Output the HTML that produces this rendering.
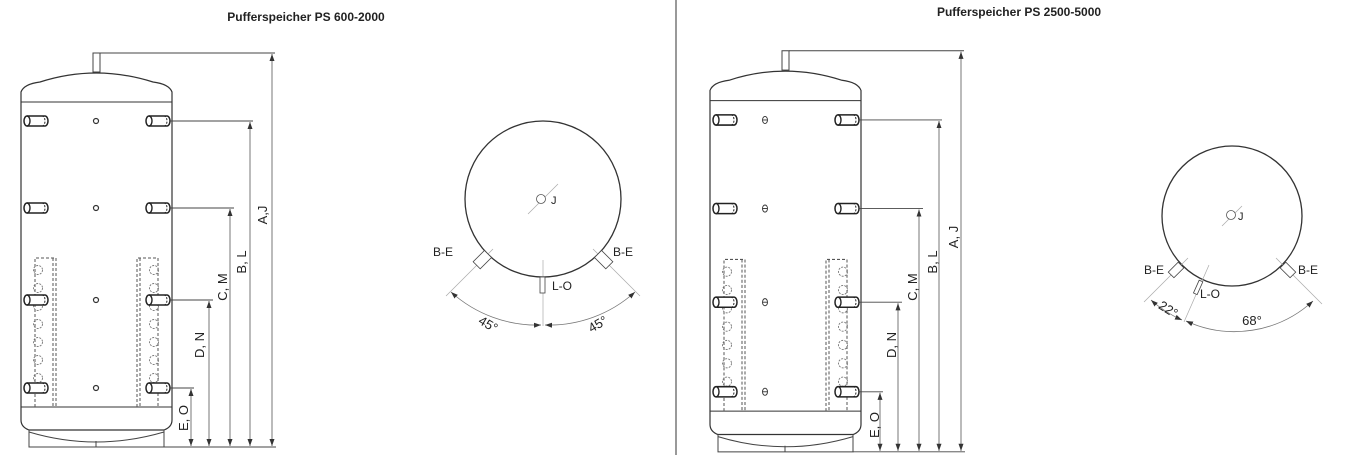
<!DOCTYPE html>
<html><head><meta charset="utf-8"><style>
html,body{margin:0;padding:0;background:#fff;}
svg{display:block;}
text{font-family:"Liberation Sans",sans-serif;fill:#222;}
</style></head><body>
<svg width="1350" height="455" viewBox="0 0 1350 455" xmlns="http://www.w3.org/2000/svg">
<defs>
<marker id="ar" markerWidth="8" markerHeight="8" refX="7" refY="4" orient="auto-start-reverse" markerUnits="userSpaceOnUse"><path d="M0,1.5 L7,4 L0,6.5 z" fill="#333"/></marker>
<g id="port">
<path d="M-9,-5 L9,-5 A3,5 0 0 1 9,5 L-9,5 A3,5 0 0 1 -9,-5 Z" fill="#fff" stroke="#222" stroke-width="1.5"/>
<path d="M-9,-5 A3,5 0 0 1 -9,5" fill="none" stroke="#222" stroke-width="1.4"/>
<path d="M6,-5 A3,5 0 0 1 6,5" fill="none" stroke="#222" stroke-width="1" stroke-dasharray="2,1.5"/>
</g>
<g id="tank">
<rect x="93" y="53" width="7" height="19" fill="#fff" stroke="#444" stroke-width="1"/>
<path d="M21,92 Q24,84 40,82 Q96,64 153,82 Q169,84 172,92 L172,420 Q172,427 164,430 L29,430 Q21,427 21,420 Z" fill="#fff" stroke="#333" stroke-width="1.2"/>
<line x1="21" y1="102" x2="172" y2="102" stroke="#333" stroke-width="1"/>
<line x1="21" y1="407" x2="172" y2="407" stroke="#333" stroke-width="1"/>
<path d="M29,430 L29,447 L164,447 L164,430" fill="none" stroke="#444" stroke-width="1"/>
<path d="M29,432 Q96,452 164,432" fill="none" stroke="#444" stroke-width="1"/>
<line x1="96" y1="441" x2="96" y2="447" stroke="#444" stroke-width="1"/>
<g fill="none" stroke="#555" stroke-width="1" stroke-dasharray="3,2">
<path d="M35,407 L35,258 L56,258 L56,407"/><line x1="53" y1="258" x2="53" y2="407"/>
<path d="M137,407 L137,258 L158,258 L158,407"/><line x1="140" y1="258" x2="140" y2="407"/>
</g>
<g fill="none" stroke="#777" stroke-width="0.9" stroke-dasharray="2,1.2">
<circle cx="38" cy="270" r="4.5"/><circle cx="38" cy="288" r="4.5"/><circle cx="38" cy="306" r="4.5"/><circle cx="38" cy="324" r="4.5"/><circle cx="38" cy="342" r="4.5"/><circle cx="38" cy="360" r="4.5"/><circle cx="38" cy="378" r="4.5"/>
<circle cx="154" cy="270" r="4.5"/><circle cx="154" cy="288" r="4.5"/><circle cx="154" cy="306" r="4.5"/><circle cx="154" cy="324" r="4.5"/><circle cx="154" cy="342" r="4.5"/><circle cx="154" cy="360" r="4.5"/><circle cx="154" cy="378" r="4.5"/>
</g>
<use href="#port" x="36" y="121"/><use href="#port" x="158" y="121"/>
<use href="#port" x="36" y="208"/><use href="#port" x="158" y="208"/>
<use href="#port" x="36" y="300"/><use href="#port" x="158" y="300"/>
<use href="#port" x="36" y="388"/><use href="#port" x="158" y="388"/>
<g stroke="#444" stroke-width="0.9" fill="none">
<line x1="100" y1="53" x2="275" y2="53"/>
<line x1="170" y1="121" x2="253" y2="121"/>
<line x1="170" y1="208" x2="234" y2="208"/>
<line x1="170" y1="300" x2="213" y2="300"/>
<line x1="170" y1="388" x2="194" y2="388"/>
<line x1="164" y1="447" x2="276" y2="447"/>
</g>
<g stroke="#555" stroke-width="0.8" fill="none" marker-start="url(#ar)" marker-end="url(#ar)">
<line x1="272" y1="54" x2="272" y2="446"/>
<line x1="250" y1="122" x2="250" y2="446"/>
<line x1="230" y1="209" x2="230" y2="446"/>
<line x1="209" y1="301" x2="209" y2="446"/>
<line x1="191" y1="389" x2="191" y2="446"/>
</g>
</g>
</defs>

<line x1="676" y1="0" x2="676" y2="455" stroke="#333" stroke-width="1"/>

<text x="306" y="21" font-size="12" font-weight="bold" text-anchor="middle">Pufferspeicher PS 600-2000</text>
<text x="1019" y="16" font-size="12" font-weight="bold" text-anchor="middle">Pufferspeicher PS 2500-5000</text>

<use href="#tank"/>
<g font-size="13">
<text transform="translate(267,215) rotate(-90)" text-anchor="middle">A,J</text>
<text transform="translate(246,262) rotate(-90)" text-anchor="middle">B, L</text>
<text transform="translate(227,287) rotate(-90)" text-anchor="middle">C, M</text>
<text transform="translate(204,345) rotate(-90)" text-anchor="middle">D, N</text>
<text transform="translate(188,418) rotate(-90)" text-anchor="middle">E, O</text>
</g>
<g fill="#fff" stroke="#333" stroke-width="1.2"><circle cx="96" cy="121" r="2.5"/><circle cx="96" cy="208" r="2.5"/><circle cx="96" cy="300" r="2.5"/><circle cx="96" cy="388" r="2.5"/></g>

<g transform="translate(689,-3.2) scale(1,1.018)">
<use href="#tank"/>
<g fill="#fff" stroke="#333" stroke-width="0.9"><ellipse cx="76" cy="121" rx="2.5" ry="3.5"/><ellipse cx="76" cy="208" rx="2.5" ry="3.5"/><ellipse cx="76" cy="300" rx="2.5" ry="3.5"/><ellipse cx="76" cy="388" rx="2.5" ry="3.5"/>
<line x1="73.5" y1="121" x2="78.5" y2="121"/><line x1="73.5" y1="208" x2="78.5" y2="208"/><line x1="73.5" y1="300" x2="78.5" y2="300"/><line x1="73.5" y1="388" x2="78.5" y2="388"/></g>
</g>
<g font-size="13">
<text transform="translate(958,237) rotate(-90)" text-anchor="middle">A, J</text>
<text transform="translate(937,262) rotate(-90)" text-anchor="middle">B, L</text>
<text transform="translate(917,287) rotate(-90)" text-anchor="middle">C, M</text>
<text transform="translate(896,345) rotate(-90)" text-anchor="middle">D, N</text>
<text transform="translate(879,425) rotate(-90)" text-anchor="middle">E, O</text>
</g>

<g>
<line x1="528" y1="214" x2="558" y2="184" stroke="#aaa" stroke-width="0.7"/>
<line x1="543" y1="260" x2="543" y2="326" stroke="#aaa" stroke-width="0.7"/>
<line x1="493" y1="249" x2="446" y2="296" stroke="#aaa" stroke-width="0.7"/>
<line x1="593" y1="249" x2="640" y2="296" stroke="#aaa" stroke-width="0.7"/>
<circle cx="543" cy="199" r="78" fill="none" stroke="#333" stroke-width="1.3"/>
<circle cx="541" cy="199" r="4.5" fill="#fff" stroke="#555" stroke-width="0.8"/>
<text x="551" y="204" font-size="11">J</text>
<rect x="540" y="277" width="5" height="16" fill="#fff" stroke="#444" stroke-width="0.8"/>
<rect x="-5" y="0" width="10" height="16" fill="#fff" stroke="#444" stroke-width="0.8" transform="translate(488,254) rotate(45)"/>
<rect x="-5" y="0" width="10" height="16" fill="#fff" stroke="#444" stroke-width="0.8" transform="translate(598,254) rotate(-45)"/>
<text x="433" y="256" font-size="12">B-E</text>
<text x="613" y="256" font-size="12">B-E</text>
<text x="552" y="290" font-size="12">L-O</text>
<path d="M451,292 A128,128 0 0 0 541,325" fill="none" stroke="#777" stroke-width="0.8" marker-start="url(#ar)" marker-end="url(#ar)"/>
<path d="M545,325 A128,128 0 0 0 635,292" fill="none" stroke="#777" stroke-width="0.8" marker-start="url(#ar)" marker-end="url(#ar)"/>
<text font-size="13" transform="translate(486,328) rotate(30)" text-anchor="middle">45°</text>
<text font-size="13" transform="translate(600,328) rotate(-30)" text-anchor="middle">45°</text>
</g>

<g>
<line x1="1222" y1="226" x2="1242" y2="206" stroke="#aaa" stroke-width="0.7"/>
<circle cx="1232" cy="216" r="70" fill="none" stroke="#333" stroke-width="1.3"/>
<circle cx="1231" cy="215" r="4.5" fill="#fff" stroke="#555" stroke-width="0.8"/>
<text x="1238" y="220" font-size="11">J</text>
<line x1="1188" y1="258" x2="1144" y2="302" stroke="#aaa" stroke-width="0.7"/>
<line x1="1209" y1="265" x2="1184" y2="322" stroke="#aaa" stroke-width="0.7"/>
<line x1="1276" y1="258" x2="1322" y2="304" stroke="#aaa" stroke-width="0.7"/>
<rect x="-4" y="0" width="8" height="14" fill="#fff" stroke="#444" stroke-width="0.8" transform="translate(1181,265) rotate(45)"/>
<rect x="-4" y="0" width="8" height="14" fill="#fff" stroke="#444" stroke-width="0.8" transform="translate(1283,265) rotate(-45)"/>
<rect x="-2" y="0" width="4" height="14" fill="#fff" stroke="#444" stroke-width="0.8" transform="translate(1201,281) rotate(24)"/>
<text x="1144" y="274" font-size="12">B-E</text>
<text x="1298" y="274" font-size="12">B-E</text>
<text x="1200" y="298" font-size="12">L-O</text>
<path d="M1151,300 A116,116 0 0 0 1182,320" fill="none" stroke="#777" stroke-width="0.8" marker-start="url(#ar)" marker-end="url(#ar)"/>
<path d="M1186,321 A116,116 0 0 0 1313,301" fill="none" stroke="#777" stroke-width="0.8" marker-start="url(#ar)" marker-end="url(#ar)"/>
<text font-size="13" transform="translate(1166,313) rotate(32)" text-anchor="middle">22°</text>
<text font-size="13" x="1252" y="325" text-anchor="middle">68°</text>
</g>
</svg>
</body></html>
